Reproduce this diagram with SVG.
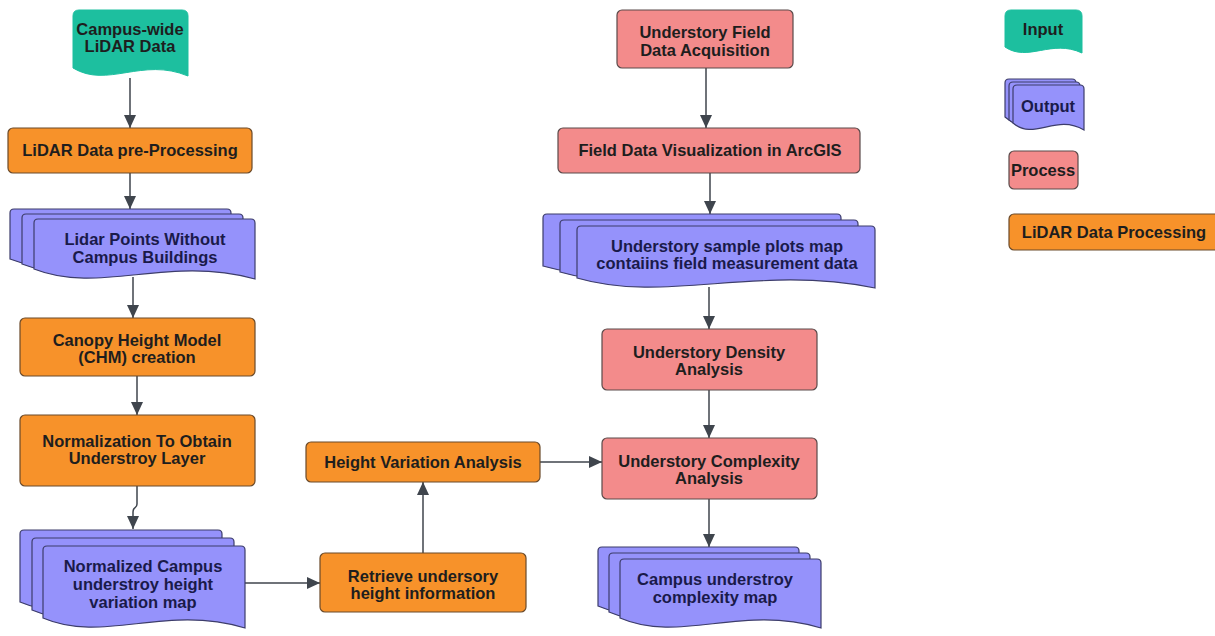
<svg xmlns="http://www.w3.org/2000/svg" width="1215" height="636" viewBox="0 0 1215 636">
<style>
  text { font-family: "Liberation Sans", Arial, sans-serif; font-weight: bold; font-size: 16.5px; text-anchor: middle; fill: #1e1e1e; }
  .inp { fill: #1dbf9f; stroke: #1dbf9f; stroke-width: 1; }
  .out { fill: #9592fb; stroke: #3d3d6b; stroke-width: 1.2; }
  .out-t { fill: #1a1a4a; }
  .proc { fill: #f38b8b; stroke: #5a4a4a; stroke-width: 1.2; }
  .lid { fill: #f7922a; stroke: #6a4a2a; stroke-width: 1.2; }
  .conn { fill: none; stroke: #3f454d; stroke-width: 1.5; marker-end: url(#ah); }
</style>
<defs>
  <marker id="ah" markerUnits="userSpaceOnUse" markerWidth="14" markerHeight="12" refX="13" refY="6" orient="auto">
    <path d="M0,0 L13,6 L0,12 Z" fill="#3f454d"/>
  </marker>
</defs>
<rect width="1215" height="636" fill="#ffffff"/>

<g id="connectors">
  <path class="conn" d="M130,78 V128"/>
  <path class="conn" d="M130,173 V209"/>
  <path class="conn" d="M133,277 V318"/>
  <path class="conn" d="M137,376 V415"/>
  <path class="conn" d="M137,486 V504 C137,509 133,506 133,512 V529"/>
  <path class="conn" d="M245,583 H320"/>
  <path class="conn" d="M423,553 V482"/>
  <path class="conn" d="M540,462 H602"/>
  <path class="conn" d="M706,68 V128"/>
  <path class="conn" d="M710,173 V214"/>
  <path class="conn" d="M709,287 V329"/>
  <path class="conn" d="M709,390 V438"/>
  <path class="conn" d="M709,499 V547"/>
</g>

<g id="n-input">
  <path class="inp" d="M73,16 Q73,10 79,10 H182 Q188,10 188,16 V76 C142,56.8 107.5,88.8 73,68 Z"/>
  <text x="130" y="35">Campus-wide</text>
  <text x="130" y="52">LiDAR Data</text>
</g>

<g id="n-preproc">
  <rect class="lid" x="8" y="128" width="244" height="45" rx="5"/>
  <text x="130" y="156">LiDAR Data pre-Processing</text>
</g>

<g id="n-lidarpoints">
  <path class="out" d="M10,213 Q10,209 14,209 H227 Q231,209 231,213 V269 C142.6,245 76.3,285 10,259 Z"/>
  <path class="out" d="M22,218 Q22,214 26,214 H239 Q243,214 243,218 V274 C154.6,250 88.3,290 22,264 Z"/>
  <path class="out" d="M34,223 Q34,219 38,219 H251 Q255,219 255,223 V279 C166.6,255 100.3,295 34,269 Z"/>
  <text class="out-t" x="145" y="245">Lidar Points Without</text>
  <text class="out-t" x="145" y="263">Campus Buildings</text>
</g>

<g id="n-chm">
  <rect class="lid" x="20" y="318" width="235" height="58" rx="5"/>
  <text x="137" y="346">Canopy Height Model</text>
  <text x="137" y="363">(CHM) creation</text>
</g>

<g id="n-normalization">
  <rect class="lid" x="20" y="415" width="235" height="71" rx="5"/>
  <text x="137" y="447">Normalization To Obtain</text>
  <text x="137" y="464">Understroy Layer</text>
</g>

<g id="n-normalized-map">
  <path class="out" d="M20,534 Q20,530 24,530 H218 Q222,530 222,534 V612 C141.2,588 80.6,628 20,602 Z"/>
  <path class="out" d="M32,542 Q32,538 36,538 H230 Q234,538 234,542 V620 C153.2,596 92.6,636 32,610 Z"/>
  <path class="out" d="M43,550 Q43,546 47,546 H241 Q245,546 245,550 V628 C164.2,604 103.6,644 43,618 Z"/>
  <text class="out-t" x="143" y="572">Normalized Campus</text>
  <text class="out-t" x="143" y="590">understroy height</text>
  <text class="out-t" x="143" y="608">variation map</text>
</g>

<g id="n-retrieve">
  <rect class="lid" x="320" y="553" width="206" height="59" rx="5"/>
  <text x="423" y="582">Retrieve undersory</text>
  <text x="423" y="599">height information</text>
</g>

<g id="n-heightvar">
  <rect class="lid" x="306" y="442" width="234" height="40" rx="5"/>
  <text x="423" y="468">Height Variation Analysis</text>
</g>

<g id="n-field-acq">
  <rect class="proc" x="617" y="10" width="176" height="58" rx="5"/>
  <text x="705" y="38">Understory Field</text>
  <text x="705" y="56">Data Acquisition</text>
</g>

<g id="n-field-vis">
  <rect class="proc" x="558" y="128" width="302" height="45" rx="5"/>
  <text x="710" y="156">Field Data Visualization in ArcGIS</text>
</g>

<g id="n-sample-plots">
  <path class="out" d="M543,218 Q543,214 547,214 H837 Q841,214 841,218 V276 C721.8,252 632.4,292 543,266 Z"/>
  <path class="out" d="M560,224 Q560,220 564,220 H854 Q858,220 858,224 V282 C738.8,258 649.4,298 560,272 Z"/>
  <path class="out" d="M577,230 Q577,226 581,226 H871 Q875,226 875,230 V288 C755.8,264 666.4,304 577,278 Z"/>
  <text class="out-t" x="727" y="252">Understory sample plots map</text>
  <text class="out-t" x="727" y="269">contaiins field measurement data</text>
</g>

<g id="n-density">
  <rect class="proc" x="602" y="329" width="215" height="61" rx="5"/>
  <text x="709" y="358">Understory Density</text>
  <text x="709" y="375">Analysis</text>
</g>

<g id="n-complexity">
  <rect class="proc" x="602" y="438" width="215" height="61" rx="5"/>
  <text x="709" y="467">Understory Complexity</text>
  <text x="709" y="484">Analysis</text>
</g>

<g id="n-complexity-map">
  <path class="out" d="M598,551 Q598,547 602,547 H795 Q799,547 799,551 V616 C718.6,592 658.3,632 598,606 Z"/>
  <path class="out" d="M609,557 Q609,553 613,553 H806 Q810,553 810,557 V622 C729.6,598 669.3,638 609,612 Z"/>
  <path class="out" d="M620,563 Q620,559 624,559 H817 Q821,559 821,563 V628 C740.6,604 680.3,644 620,618 Z"/>
  <text class="out-t" x="715" y="585">Campus understroy</text>
  <text class="out-t" x="715" y="603">complexity map</text>
</g>

<g id="legend-input">
  <path class="inp" d="M1005,16 Q1005,10 1011,10 H1076 Q1082,10 1082,16 V53 C1051.2,38.6 1028.1,62.6 1005,47 Z"/>
  <text x="1043" y="35">Input</text>
</g>

<g id="legend-output">
  <path class="out" d="M1005,83 Q1005,79 1009,79 H1072 Q1076,79 1076,83 V124 C1047.6,107.2 1026.3,135.2 1005,117 Z"/>
  <path class="out" d="M1009,86 Q1009,82 1013,82 H1076 Q1080,82 1080,86 V127 C1051.6,110.2 1030.3,138.2 1009,120 Z"/>
  <path class="out" d="M1013,89 Q1013,85 1017,85 H1080 Q1084,85 1084,89 V130 C1055.6,113.2 1034.3,141.2 1013,123 Z"/>
  <text class="out-t" x="1048" y="112">Output</text>
</g>

<g id="legend-process">
  <rect class="proc" x="1009" y="151" width="69" height="38" rx="5"/>
  <text x="1043" y="176">Process</text>
</g>

<g id="legend-lidar">
  <rect class="lid" x="1009" y="214" width="215" height="36" rx="5"/>
  <text x="1114" y="238">LiDAR Data Processing</text>
</g>
</svg>
